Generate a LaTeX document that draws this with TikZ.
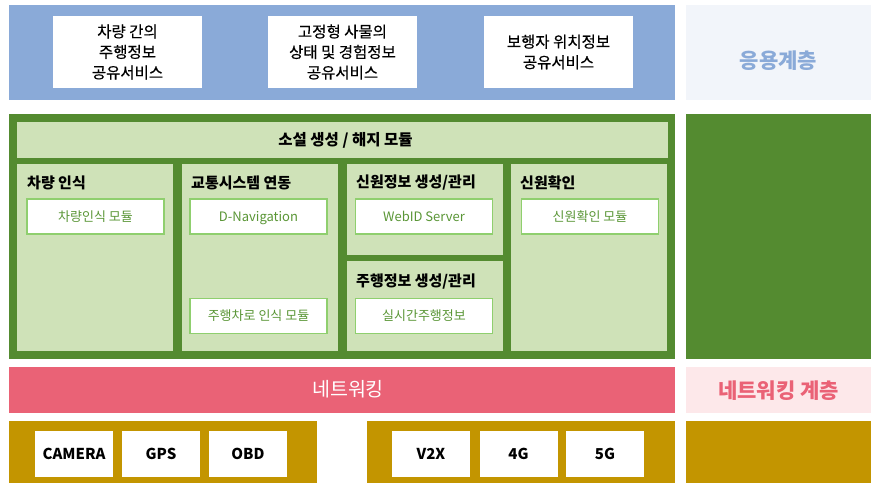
\documentclass[tikz,border=0pt]{standalone}
\usepackage{fontspec}
\setmainfont{Noto Sans CJK KR}
\newfontfamily\krmed[FakeBold=0.4]{Noto Sans CJK KR}
\definecolor{appblue}{HTML}{8AAAD8}
\definecolor{applight}{HTML}{F2F5FA}
\definecolor{dgreen}{HTML}{548B30}
\definecolor{lgreen}{HTML}{CFE2B8}
\definecolor{bgreen}{HTML}{8FCF6E}
\definecolor{tgreen}{HTML}{5A9636}
\definecolor{npink}{HTML}{EA6276}
\definecolor{lpink}{HTML}{FDE8EA}
\definecolor{gold}{HTML}{C39500}
\tikzset{
  svcbox/.style={fill=white, align=center, font=\krmed\fontsize{15.5}{20.5}\selectfont},
  coltitle/.style={anchor=west, font=\fontsize{15}{17}\selectfont\bfseries, inner sep=0pt},
  modbox/.style={fill=white, draw=bgreen, line width=1.2pt, text=tgreen, text height=10pt, text depth=1pt, font=\fontsize{13}{15}\selectfont},
  devbox/.style={fill=white, font=\fontsize{15}{17}\selectfont\bfseries},
}
\begin{document}
\begin{tikzpicture}[x=1pt,y=-1pt]
\useasboundingbox (0,0) rectangle (871,483);
% application layer
\fill[appblue] (9,5) rectangle (675,100);
\fill[applight] (686,5) rectangle (871,100);
\node[svcbox, minimum width=149pt, minimum height=72pt] (s1) at (127.5,52) {차량 간의\\주행정보\\공유서비스};
\node[svcbox, minimum width=149pt, minimum height=72pt] (s2) at (342.5,52) {고정형 사물의\\상태 및 경험정보\\공유서비스};
\node[svcbox, minimum width=149pt, minimum height=72pt] (s3) at (558.5,52) {보행자 위치정보\\공유서비스};
\node[text=appblue, font=\fontsize{21}{24}\selectfont\bfseries] (applbl) at (778.5,61) {응용계층};
% middle layer
\fill[dgreen] (9,114) rectangle (675,359);
\fill[dgreen] (686,114) rectangle (871,359);
\fill[lgreen] (17,122) rectangle (668,158);
\node[font=\fontsize{15.5}{17}\selectfont\bfseries] (top) at (345.5,140) {소설 생성 / 해지 모듈};
\fill[lgreen] (17,164) rectangle (173,351);
\fill[lgreen] (182,164) rectangle (338,351);
\fill[lgreen] (347,164) rectangle (503,255);
\fill[lgreen] (347,261) rectangle (503,351);
\fill[lgreen] (511,164) rectangle (667,351);
\node[coltitle] (c1) at (27,183) {차량 인식};
\node[coltitle] (c2) at (191,183) {교통시스템 연동};
\node[coltitle] (c3) at (356,183) {신원정보 생성/관리};
\node[coltitle] (c3b) at (356,282) {주행정보 생성/관리};
\node[coltitle] (c4) at (520,183) {신원확인};
\node[modbox, minimum width=137pt, minimum height=35pt] (m1) at (95.5,216.5) {차량인식 모듈};
\node[modbox, minimum width=137pt, minimum height=35pt] (m2) at (258.5,216.5) {D-Navigation};
\node[modbox, minimum width=137pt, minimum height=35pt] (m3) at (258.5,316) {주행차로 인식 모듈};
\node[modbox, minimum width=137pt, minimum height=35pt] (m4) at (424,216.5) {WebID Server};
\node[modbox, minimum width=137pt, minimum height=35pt] (m5) at (424,316) {실시간주행정보};
\node[modbox, minimum width=137pt, minimum height=35pt] (m6) at (590,216.5) {신원확인 모듈};
% networking
\fill[npink] (9,367) rectangle (675,413);
\fill[lpink] (686,367) rectangle (871,413);
\node[text=white, font=\fontsize{19.5}{22}\selectfont] (net) at (348,389) {네트워킹};
\node[text=npink, font=\fontsize{21}{24}\selectfont\bfseries] (netlbl) at (778.5,391) {네트워킹 계층};
% devices
\fill[gold] (9,421) rectangle (317,483);
\fill[gold] (367,421) rectangle (675,483);
\fill[gold] (686,421) rectangle (871,483);
\node[devbox, minimum width=78pt, minimum height=46pt] (d1) at (74,454) {CAMERA};
\node[devbox, minimum width=78pt, minimum height=46pt] (d2) at (161,454) {GPS};
\node[devbox, minimum width=78pt, minimum height=46pt] (d3) at (248,454) {OBD};
\node[devbox, minimum width=78pt, minimum height=46pt] (d4) at (431,454) {V2X};
\node[devbox, minimum width=78pt, minimum height=46pt] (d5) at (518.5,454) {4G};
\node[devbox, minimum width=78pt, minimum height=46pt] (d6) at (605,454) {5G};
\end{tikzpicture}
\end{document}
